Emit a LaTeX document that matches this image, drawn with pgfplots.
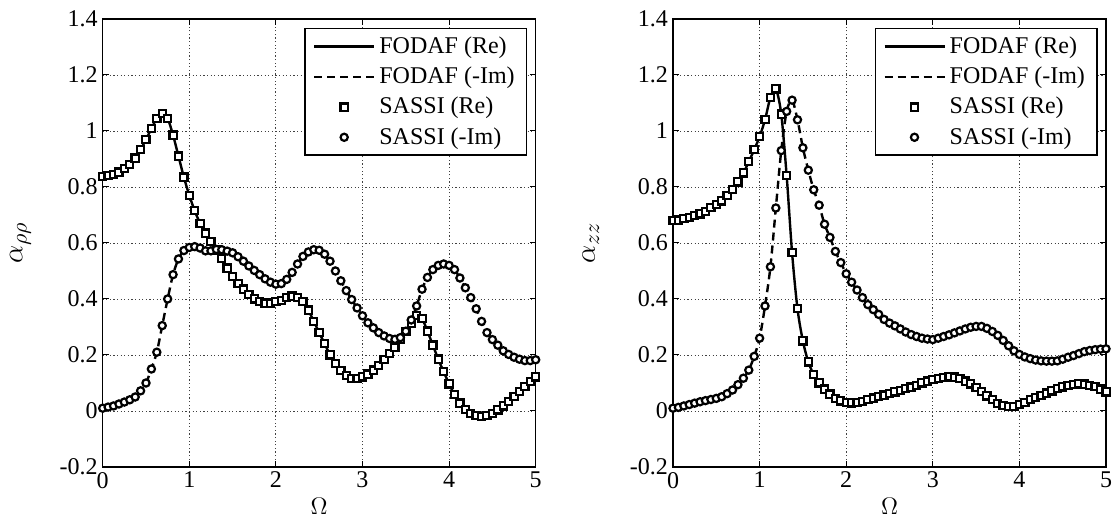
\documentclass[border=0pt]{standalone}
\usepackage{fontspec}
\setmainfont{Liberation Serif}
\usepackage{pgfplots}
\usepackage{pgfplotstable}
\pgfplotsset{compat=1.18}

\pgfplotstableread{
x y
0 0.837
0.0625 0.840
0.125 0.845
0.1875 0.853
0.25 0.865
0.3125 0.880
0.375 0.903
0.4375 0.933
0.5 0.970
0.5625 1.008
0.625 1.045
0.6875 1.063
0.75 1.045
0.8125 0.985
0.875 0.910
0.9375 0.835
1 0.770
1.0625 0.715
1.125 0.670
1.1875 0.635
1.25 0.605
1.3125 0.575
1.375 0.545
1.4375 0.510
1.5 0.480
1.5625 0.455
1.625 0.435
1.6875 0.415
1.75 0.400
1.8125 0.390
1.875 0.385
1.9375 0.385
2 0.390
2.0625 0.395
2.125 0.405
2.1875 0.410
2.25 0.405
2.3125 0.390
2.375 0.360
2.4375 0.320
2.5 0.280
2.5625 0.240
2.625 0.200
2.6875 0.170
2.75 0.145
2.8125 0.127
2.875 0.117
2.9375 0.117
3 0.122
3.0625 0.132
3.125 0.146
3.1875 0.163
3.25 0.183
3.3125 0.205
3.375 0.228
3.4375 0.255
3.5 0.283
3.5625 0.312
3.625 0.340
3.6875 0.330
3.75 0.285
3.8125 0.235
3.875 0.185
3.9375 0.140
4 0.097
4.0625 0.058
4.125 0.028
4.1875 0.006
4.25 -0.008
4.3125 -0.016
4.375 -0.020
4.4375 -0.017
4.5 -0.008
4.5625 0.004
4.625 0.018
4.6875 0.034
4.75 0.052
4.8125 0.070
4.875 0.088
4.9375 0.105
5 0.122
}\rrRe

\pgfplotstableread{
x y
0 0.010
0.0625 0.014
0.125 0.018
0.1875 0.025
0.25 0.032
0.3125 0.040
0.375 0.050
0.4375 0.072
0.5 0.100
0.5625 0.150
0.625 0.210
0.6875 0.305
0.75 0.400
0.8125 0.487
0.875 0.543
0.9375 0.573
1 0.584
1.0625 0.587
1.125 0.582
1.1875 0.572
1.25 0.572
1.3125 0.577
1.375 0.576
1.4375 0.571
1.5 0.565
1.5625 0.551
1.625 0.535
1.6875 0.518
1.75 0.502
1.8125 0.487
1.875 0.472
1.9375 0.460
2 0.453
2.0625 0.455
2.125 0.470
2.1875 0.495
2.25 0.525
2.3125 0.552
2.375 0.568
2.4375 0.576
2.5 0.574
2.5625 0.560
2.625 0.535
2.6875 0.500
2.75 0.465
2.8125 0.430
2.875 0.398
2.9375 0.368
3 0.340
3.0625 0.315
3.125 0.297
3.1875 0.280
3.25 0.268
3.3125 0.259
3.375 0.256
3.4375 0.262
3.5 0.285
3.5625 0.325
3.625 0.375
3.6875 0.435
3.75 0.477
3.8125 0.505
3.875 0.520
3.9375 0.525
4 0.520
4.0625 0.505
4.125 0.475
4.1875 0.440
4.25 0.405
4.3125 0.365
4.375 0.320
4.4375 0.280
4.5 0.255
4.5625 0.235
4.625 0.215
4.6875 0.202
4.75 0.192
4.8125 0.185
4.875 0.180
4.9375 0.180
5 0.183
}\rrIm

\pgfplotstableread{
x y
0 0.680
0.0625 0.682
0.125 0.687
0.1875 0.692
0.25 0.698
0.3125 0.704
0.375 0.713
0.4375 0.726
0.5 0.738
0.5625 0.750
0.625 0.770
0.6875 0.792
0.75 0.818
0.8125 0.850
0.875 0.890
0.9375 0.933
1 0.980
1.0625 1.040
1.125 1.120
1.1875 1.150
1.25 1.060
1.3125 0.840
1.375 0.565
1.4375 0.365
1.5 0.250
1.5625 0.175
1.625 0.130
1.6875 0.100
1.75 0.078
1.8125 0.060
1.875 0.045
1.9375 0.036
2 0.031
2.0625 0.029
2.125 0.030
2.1875 0.034
2.25 0.040
2.3125 0.046
2.375 0.052
2.4375 0.057
2.5 0.062
2.5625 0.068
2.625 0.074
2.6875 0.080
2.75 0.085
2.8125 0.092
2.875 0.100
2.9375 0.107
3 0.113
3.0625 0.117
3.125 0.120
3.1875 0.122
3.25 0.121
3.3125 0.115
3.375 0.107
3.4375 0.097
3.5 0.083
3.5625 0.070
3.625 0.054
3.6875 0.040
3.75 0.027
3.8125 0.019
3.875 0.016
3.9375 0.017
4 0.023
4.0625 0.031
4.125 0.040
4.1875 0.048
4.25 0.056
4.3125 0.064
4.375 0.072
4.4375 0.080
4.5 0.086
4.5625 0.091
4.625 0.095
4.6875 0.097
4.75 0.096
4.8125 0.092
4.875 0.087
4.9375 0.078
5 0.068
}\zzRe

\pgfplotstableread{
x y
0 0.010
0.0625 0.013
0.125 0.018
0.1875 0.023
0.25 0.028
0.3125 0.033
0.375 0.037
0.4375 0.041
0.5 0.045
0.5625 0.051
0.625 0.062
0.6875 0.075
0.75 0.094
0.8125 0.117
0.875 0.146
0.9375 0.195
1 0.260
1.0625 0.375
1.125 0.515
1.1875 0.725
1.25 0.930
1.3125 1.070
1.375 1.110
1.4375 1.040
1.5 0.940
1.5625 0.860
1.625 0.790
1.6875 0.735
1.75 0.667
1.8125 0.620
1.875 0.570
1.9375 0.530
2 0.490
2.0625 0.460
2.125 0.432
2.1875 0.405
2.25 0.380
2.3125 0.362
2.375 0.345
2.4375 0.327
2.5 0.314
2.5625 0.304
2.625 0.293
2.6875 0.282
2.75 0.273
2.8125 0.266
2.875 0.260
2.9375 0.257
3 0.255
3.0625 0.260
3.125 0.266
3.1875 0.272
3.25 0.279
3.3125 0.286
3.375 0.293
3.4375 0.299
3.5 0.302
3.5625 0.302
3.625 0.295
3.6875 0.284
3.75 0.270
3.8125 0.252
3.875 0.233
3.9375 0.215
4 0.202
4.0625 0.193
4.125 0.187
4.1875 0.182
4.25 0.179
4.3125 0.178
4.375 0.178
4.4375 0.179
4.5 0.185
4.5625 0.192
4.625 0.198
4.6875 0.205
4.75 0.212
4.8125 0.216
4.875 0.219
4.9375 0.221
5 0.222
}\zzIm

\pgfplotsset{
  panel/.style={
    scale only axis, width=216.5pt, height=224pt,
    xmin=0, xmax=5, ymin=-0.2, ymax=1.4,
    xtick={0,1,2,3,4,5},
    ytick={-0.2,0,0.2,0.4,0.6,0.8,1,1.2,1.4},
    grid=major,
    grid style={dash pattern=on 0.6pt off 1.2pt, black!75, line width=0.45pt},
    tick align=inside, major tick length=3pt,
    tick style={black, line width=0.5pt},
    axis line style={line width=0.75pt},
    /pgf/number format/assume math mode=true,
    ticklabel style={font=\fontsize{12}{14}\selectfont},
    xticklabel style={yshift=1pt},
    yticklabel style={xshift=1pt},
    xlabel={$\Omega$},
    xlabel style={at={(axis description cs:0.5,-0.088)}, anchor=center, font=\fontsize{12}{14}\selectfont},
    ylabel style={at={(axis description cs:-0.19,0.5)}, anchor=center, rotate=0, font=\fontsize{15}{17}\selectfont},
    legend style={at={(axis description cs:0.981,0.98)}, anchor=north east,
      draw=black, line width=0.75pt, font=\fontsize{12}{14}\selectfont,
      row sep=1.3pt, inner xsep=4pt, inner ysep=2pt, cells={anchor=west}},
    legend cell align=left,
  },
  fline/.style={black, line width=1.2pt, smooth, no marks,
    legend image code/.code={\draw[##1] (0pt,0pt) -- (30pt,0pt);}},
  fmark/.style={black, only marks, mark size=1.8pt,
    mark options={solid, line width=1.1pt, fill=white},
    legend image code/.code={\draw[##1] plot coordinates {(15pt,0pt)};}},
}

\begin{document}
\begin{tikzpicture}
\path[use as bounding box] (-51.35pt,-25pt) rectangle (505.65pt,233.5pt);
\begin{axis}[panel, at={(0pt,0pt)}, anchor=south west, ylabel={$\alpha_{\rho\rho}$}]
  \addplot[fline] table {\rrRe};
  \addlegendentry{FODAF (Re)}
  \addplot[fline, dash pattern=on 4pt off 2.5pt] table {\rrIm};
  \addlegendentry{FODAF (-Im)}
  \addplot[fmark, mark=square*] table {\rrRe};
  \addlegendentry{SASSI (Re)}
  \addplot[fmark, mark=*] table {\rrIm};
  \addlegendentry{SASSI (-Im)}
\end{axis}
\begin{axis}[panel, at={(285.15pt,0pt)}, anchor=south west, ylabel={$\alpha_{zz}$}]
  \addplot[fline] table {\zzRe};
  \addlegendentry{FODAF (Re)}
  \addplot[fline, dash pattern=on 4pt off 2.5pt] table {\zzIm};
  \addlegendentry{FODAF (-Im)}
  \addplot[fmark, mark=square*] table {\zzRe};
  \addlegendentry{SASSI (Re)}
  \addplot[fmark, mark=*] table {\zzIm};
  \addlegendentry{SASSI (-Im)}
\end{axis}
\end{tikzpicture}
\end{document}
